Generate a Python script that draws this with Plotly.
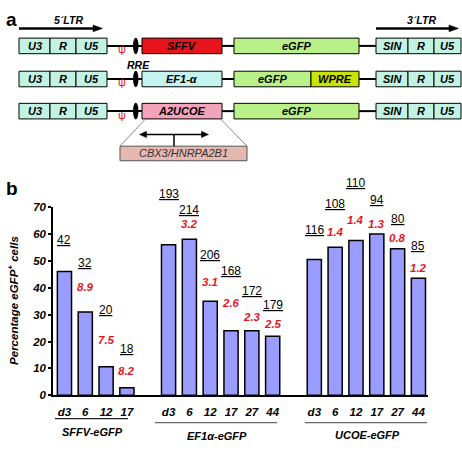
import plotly.graph_objects as go

# ---------------- data ----------------
groups = ["SFFV-eGFP", "EF1α-eGFP", "UCOE-eGFP"]
days = [["d3", "6", "12", "17"],
        ["d3", "6", "12", "17", "27", "44"],
        ["d3", "6", "12", "17", "27", "44"]]
pct_egfp = [[46, 31, 10.6, 2.8],
            [56, 58, 35, 24, 24, 22],
            [50.5, 55, 57.5, 60, 54.5, 43.5]]
counts = [["42", "32", "20", "18"],
          ["193", "214", "206", "168", "172", "179"],
          ["116", "108", "110", "94", "80", "85"]]
red_vals = [[None, "8.9", "7.5", "8.2"],
            [None, "3.2", "3.1", "2.6", "2.3", "2.5"],
            [None, "1.4", "1.4", "1.3", "0.8", "1.2"]]
# annotation heights (in % units) as placed in the figure
count_label_y = [[57.7, 49.2, 31.8, 17.2],
                 [75.0, 68.9, 52.2, 46.2, 38.7, 33.6],
                 [61.3, 71.1, 78.8, 72.5, 65.5, 55.6]]
red_label_y = [[None, 40.3, 20.6, 9.1],
               [None, 63.5, 42.0, 34.5, 29.0, 26.6],
               [None, 60.7, 65.0, 63.7, 58.6, 47.5]]
y_ticks = [0, 10, 20, 30, 40, 50, 60, 70]
y_max = 70

# ---------------- helpers ----------------
W, H = 462, 450
FONT = "Liberation Sans, Arial, sans-serif"
Y_BOTTOM_PX, Y_TOP_PX = 400, 206.5   # pixel rows of the y-axis domain


def px(x):
    return x / W


def py(y):
    return 1 - y / H


def val_to_paper(v):
    return py(Y_BOTTOM_PX - v * (Y_BOTTOM_PX - Y_TOP_PX) / y_max)


shapes = []
annotations = []


def rect(x0, y0, x1, y1, fill, lc="black", lw=1):
    shapes.append(dict(type="rect", xref="paper", yref="paper",
                       x0=px(x0), x1=px(x1), y0=py(y1), y1=py(y0),
                       fillcolor=fill, line=dict(color=lc, width=lw)))


def seg(x0, y0, x1, y1, color="black", w=2):
    shapes.append(dict(type="line", xref="paper", yref="paper",
                       x0=px(x0), y0=py(y0), x1=px(x1), y1=py(y1),
                       line=dict(color=color, width=w)))


def tri(pts, color="black"):
    p = "M " + " L ".join(f"{px(x):.5f},{py(y):.5f}" for x, y in pts) + " Z"
    shapes.append(dict(type="path", xref="paper", yref="paper", path=p,
                       fillcolor=color, line=dict(color=color, width=0.5)))


def txt(x, y, s, size=11, color="black", bold=True, italic=True, **kw):
    annotations.append(dict(xref="paper", yref="paper", x=px(x), y=py(y),
                            text=s, showarrow=False,
                            font=dict(family=FONT, size=size, color=color,
                                      weight="bold" if bold else "normal",
                                      style="italic" if italic else "normal"),
                            xanchor="center", yanchor="middle", **kw))


# ---------------- panel a: vector schematic ----------------
LTR = "#c2f2e2"
EGFP = "#baf088"
rows = [
    dict(top=33, prom="SFFV", pfill="#e8141c", wpre=False),
    dict(top=67, prom="EF1-α", pfill="#c4f4f0", wpre=True),
    dict(top=100, prom="A2UCOE", pfill="#f4a3bd", wpre=False),
]
hgt = 16
for r in rows:
    t = r["top"]
    c = t + hgt / 2
    seg(107, c, 142, c)
    seg(222, c, 234, c)
    seg(359, c, 376, c)
for r in rows:
    t = r["top"]
    b = t + hgt
    c = (t + b) / 2
    # 5' LTR
    rect(19, t, 50, b, LTR)
    rect(50, t, 76, b, LTR)
    rect(76, t, 107, b, LTR)
    txt(34.5, c, "U3")
    txt(63, c, "R")
    txt(91.5, c, "U5")
    # psi and RRE
    txt(122, c + 3.5, "ψ", size=11, color="#e8141c", bold=False, italic=False)
    shapes.append(dict(type="circle", xref="paper", yref="paper",
                       x0=px(133), x1=px(138.5), y0=py(b + 0.5), y1=py(t - 0.5),
                       fillcolor="black", line=dict(color="black", width=0)))
    # promoter
    rect(142, t, 222, b, r["pfill"])
    txt(182, c, r["prom"])
    # eGFP (+ WPRE)
    if r["wpre"]:
        rect(234, t, 311, b, EGFP)
        rect(311, t, 359, b, "#c8e400")
        txt(272.5, c, "eGFP")
        txt(335, c, "WPRE")
    else:
        rect(234, t, 359, b, EGFP)
        txt(296.5, c, "eGFP")
    # 3' LTR
    rect(376, t, 408, b, LTR)
    rect(408, t, 434, b, LTR)
    rect(434, t, 461, b, LTR)
    txt(392, c, "SIN")
    txt(421, c, "R")
    txt(447.5, c, "U5")

txt(138, 61, "RRE", size=10.5)
# LTR arrows
seg(19, 23, 95, 23, w=2.5)
tri([(93, 19.5), (102.5, 23), (93, 26.5)])
seg(376, 23, 451, 23, w=2.5)
tri([(449, 19.5), (458.5, 23), (449, 26.5)])
txt(68, 14, "5´LTR", size=10.5)
txt(421, 14, "3´LTR", size=10.5)

# UCOE zoom-out
seg(145, 116.5, 120, 144, color="#8a8a8a", w=1)
seg(221, 116.5, 247, 144, color="#8a8a8a", w=1)
rect(120, 144, 247, 159, "#e6b8b0", lc="#555555", lw=1)
txt(183.5, 151.5, "CBX3/HNRPA2B1", size=11, color="#333333", bold=False)
seg(144, 132, 204, 132, w=1.5)
tri([(139.5, 132), (146.5, 128.8), (146.5, 135.2)])
tri([(208.5, 132), (201.5, 128.8), (201.5, 135.2)])
seg(174, 132, 174, 144, w=1.5)

# panel letters
txt(11, 14, "a", size=19, italic=False)
txt(12, 188, "b", size=19, italic=False)

# ---------------- panel b: bar chart ----------------
keys, ticktext, yvals = [], [], []
cat_array = []
for gi, (g, ds) in enumerate(zip(groups, days)):
    if gi > 0:
        cat_array.append(f"gap{gi}")
    for di, d in enumerate(ds):
        k = f"{g}|{d}"
        keys.append(k)
        cat_array.append(k)
        ticktext.append(d)
        yvals.append(pct_egfp[gi][di])
        annotations.append(dict(xref="x", yref="paper", x=k,
                                y=val_to_paper(count_label_y[gi][di]),
                                text=f"<u>{counts[gi][di]}</u>", showarrow=False,
                                font=dict(family=FONT, size=12, color="black"),
                                xanchor="center", yanchor="middle"))
        if red_vals[gi][di] is not None:
            annotations.append(dict(xref="x", yref="paper", x=k,
                                    y=val_to_paper(red_label_y[gi][di]),
                                    text=red_vals[gi][di], showarrow=False,
                                    font=dict(family=FONT, size=11.5, color="#e8141c",
                                              weight="bold", style="italic"),
                                    xanchor="center", yanchor="middle"))

fig = go.Figure(go.Bar(
    x=keys, y=yvals,
    marker=dict(color="#9a9cff", line=dict(color="black", width=1.5)),
    hoverinfo="skip",
))

# group underlines and names
seg(55, 424, 128, 424, color="#222222", w=1.2)
seg(155, 428, 277, 428, color="#666666", w=1.2)
seg(305, 428, 427, 428, color="#666666", w=1.2)
txt(92, 437.5, groups[0])
txt(217, 442, groups[1])
txt(367, 441, groups[2])

# y title
txt(13, 303, "Percentage eGFP<sup>+</sup> cells", size=11.5, textangle=-90)

fig.update_layout(
    width=W, height=H, autosize=False,
    margin=dict(l=0, r=0, t=0, b=0),
    paper_bgcolor="white", plot_bgcolor="white",
    showlegend=False, bargap=0.32,
    shapes=shapes, annotations=annotations,
    xaxis=dict(domain=[px(53), px(428)], type="category",
               categoryorder="array", categoryarray=cat_array,
               range=[-0.55, 17.46], tickvals=keys, ticktext=ticktext,
               ticks="", ticklabelstandoff=5,
               showline=True, linecolor="black", linewidth=1.5,
               showgrid=False, zeroline=False,
               tickfont=dict(family=FONT, size=11.5, color="black",
                             weight="bold", style="italic")),
    yaxis=dict(domain=[py(Y_BOTTOM_PX), py(Y_TOP_PX)], range=[0, y_max], tickvals=y_ticks,
               ticks="outside", ticklen=3, tickwidth=1.5, tickcolor="black",
               showline=True, linecolor="black", linewidth=1.5,
               showgrid=False, zeroline=False,
               tickfont=dict(family=FONT, size=11.5, color="black",
                             weight="bold", style="italic")),
)

fig.write_html("out.html",
               config={"displayModeBar": False},
               post_script="document.body.style.margin='0';"
                           "document.body.style.overflow='hidden';")
